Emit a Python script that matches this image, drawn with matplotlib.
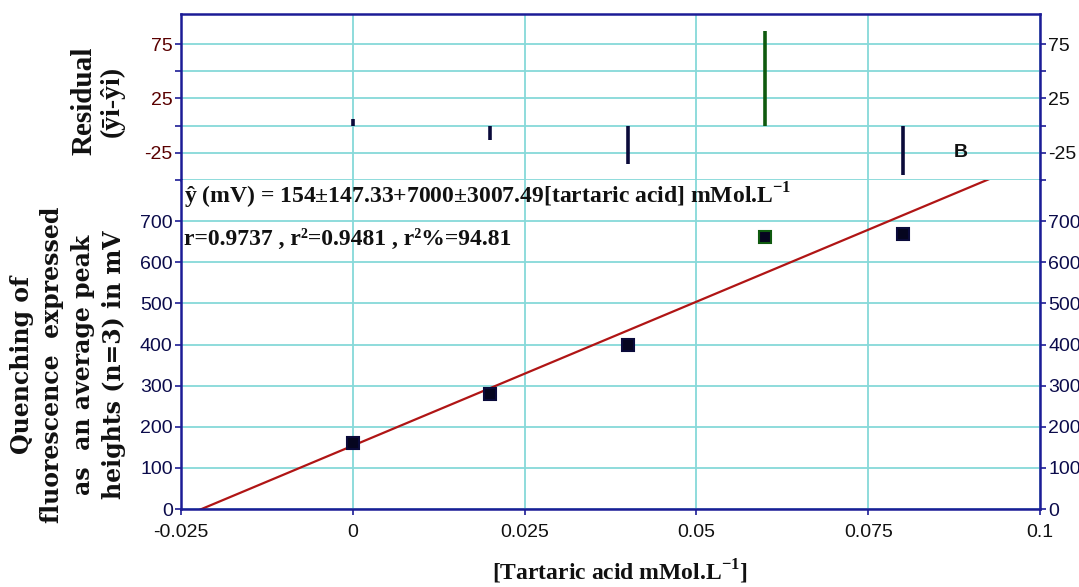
import numpy as np
import matplotlib.pyplot as plt

# data
conc = [0.0, 0.02, 0.04, 0.06, 0.08]
peak = [161, 279, 399, 662, 669]
resid = [6, -13, -35, 87, -45]
point_colors = ['#0a0a3a', '#0a0a3a', '#0a0a3a', '#0f5a0f', '#0a0a3a']
intercept = 154
slope = 7000

x_ticks = [-0.025, 0, 0.025, 0.05, 0.075, 0.1]
x_tick_labels = ['-0.025', '0', '0.025', '0.05', '0.075', '0.1']
res_ticks = [-50, -25, 0, 25, 50, 75]
res_tick_labels = ['', '-25', '', '25', '', '75']
peak_ticks = [0, 100, 200, 300, 400, 500, 600, 700]

plt.rcParams['mathtext.fontset'] = 'custom'
plt.rcParams['mathtext.rm'] = 'Liberation Serif:bold'
plt.rcParams['mathtext.bf'] = 'Liberation Serif:bold'

spine_col = '#1c1c96'
grid_col = '#86d9d9'
tick_font = 'Liberation Sans'

fig = plt.figure(figsize=(10.79, 5.87), dpi=100)
L, R = 181 / 1079, 1040 / 1079
top, mid, bot = 1 - 14 / 587, 1 - 180 / 587, 1 - 509 / 587
axr = fig.add_axes([L, mid, R - L, top - mid])
axm = fig.add_axes([L, bot, R - L, mid - bot])

for ax in (axr, axm):
    ax.set_xlim(-0.025, 0.1)
    ax.set_xticks(x_ticks)
    ax.grid(True, color=grid_col, lw=1.3)
    ax.set_axisbelow(True)
    for s in ax.spines.values():
        s.set_color(spine_col)
        s.set_linewidth(1.8)
    ax.tick_params(direction='out', length=4, width=1.2, color=spine_col,
                   right=True, labelright=True, pad=2)

# residual panel
axr.spines['bottom'].set_visible(False)
axr.set_ylim(-50, 102.6)
axr.set_yticks(res_ticks)
axr.set_yticklabels(res_tick_labels)
axr.tick_params(axis='x', bottom=False, labelbottom=False)
axr.tick_params(axis='y', labelcolor='#5a0000')
for t in axr.yaxis.get_major_ticks():
    for lab in (t.label1, t.label2):
        lab.set_family(tick_font)
        lab.set_fontsize(14)
    t.label2.set_color('#111111')
axr.vlines(conc, 0, resid, colors=point_colors, lw=2.6)
axr.text(0.0885, -25, 'B', fontsize=14, fontweight='bold', family=tick_font,
         ha='center', va='center', color='#111111')

# main panel
axm.spines['top'].set_visible(False)
axm.set_ylim(0, 800)
axm.set_yticks(peak_ticks)
axm.set_xticklabels(x_tick_labels)
axm.tick_params(axis='x', labelcolor='#111111', pad=7)
axm.tick_params(axis='y', labelcolor='#0b0b4b')
for lab in axm.get_xticklabels():
    lab.set_family(tick_font)
    lab.set_fontsize(14)
for t in axm.yaxis.get_major_ticks():
    for lab in (t.label1, t.label2):
        lab.set_family(tick_font)
        lab.set_fontsize(14)
        lab.set_color('#0b0b4b')

xs = np.array([-0.025, 0.1])
axm.plot(xs, intercept + slope * xs, color='#b01515', lw=1.6)
for x, y, c in zip(conc, peak, point_colors):
    axm.plot(x, y, 's', ms=9, mfc='#05051f', mec=c, mew=1.5)

serif = 'Liberation Serif'
axm.text(0.003, 0.951,
         'ŷ (mV) = 154±147.33+7000±3007.49[tartaric acid] mMol.L$^{-1}$',
         transform=axm.transAxes, family=serif, fontweight='bold',
         fontsize=17, va='center', ha='left', color='#111111')
axm.text(0.003, 0.818, 'r=0.9737 , r²=0.9481 , r²%=94.81',
         transform=axm.transAxes, family=serif, fontweight='bold',
         fontsize=17, va='center', ha='left', color='#111111')

fig.text(620 / 1079, 1 - 572 / 587, '[Tartaric acid mMol.L$^{-1}$]',
         family=serif, fontweight='bold', fontsize=17, ha='center',
         va='center', color='#111111')

fig.text(84 / 1079, 1 - 101 / 587, 'Residual', rotation=90, family=serif,
         fontweight='bold', fontsize=21, ha='center', va='center',
         color='#111111')
fig.text(112 / 1079, 1 - 101 / 587, '(ȳi-ŷi)', rotation=90, family=serif,
         fontweight='bold', fontsize=20, ha='center', va='center',
         color='#111111')

ylab_lines = ['Quenching of', 'fluorescence  expressed',
              'as  an average peak', 'heights (n=3) in mV']
for xp, line in zip([22, 52, 83, 114], ylab_lines):
    fig.text(xp / 1079, 1 - 365 / 587, line, rotation=90,
             family='DejaVu Serif', fontweight='bold', fontsize=17,
             ha='center', va='center', color='#111111')

fig.savefig('out.png', dpi=100, facecolor='white')
